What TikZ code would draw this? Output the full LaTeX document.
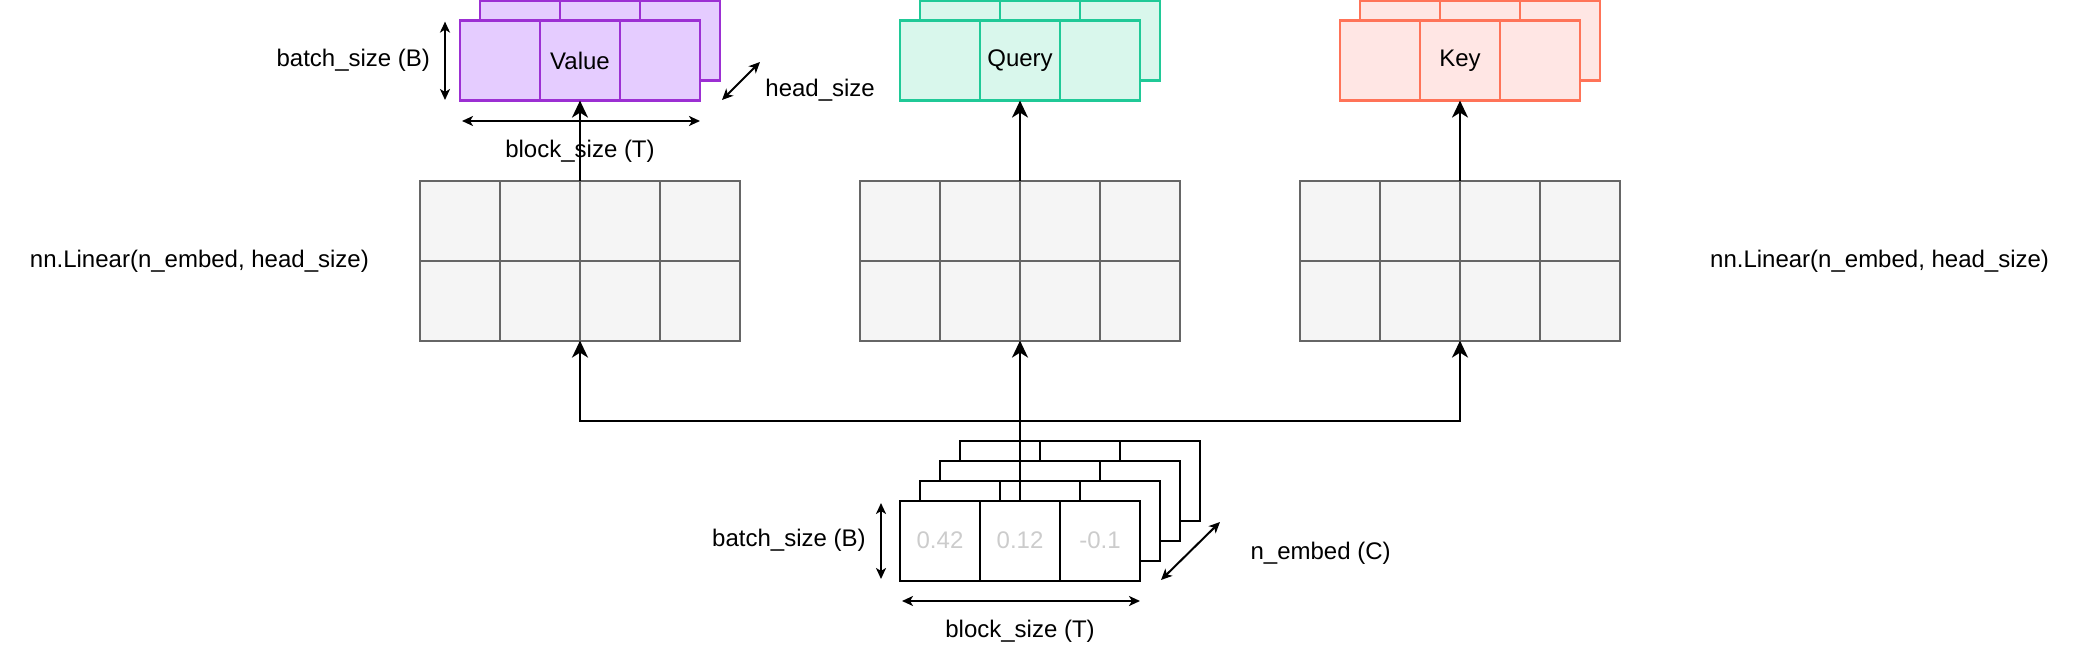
\documentclass[tikz,border=0pt]{standalone}
\usepackage{fontspec}
\setmainfont{Liberation Sans}
\usetikzlibrary{arrows.meta,calc}
\definecolor{vfill}{HTML}{E5CCFF}
\definecolor{vdraw}{HTML}{9C2FD3}
\definecolor{qfill}{HTML}{D9F7EC}
\definecolor{qdraw}{HTML}{20C997}
\definecolor{kfill}{HTML}{FFE6E4}
\definecolor{kdraw}{HTML}{FF7358}
\definecolor{lfill}{HTML}{F5F5F5}
\definecolor{ldraw}{HTML}{666666}
\definecolor{numgray}{HTML}{CCCCCC}
\newcommand{\tripbox}[4]{%
  \node[#3, minimum width=120pt, minimum height=40pt] (#1) at (#2) {#4};
  \draw[#3] ($(#1.north west)!1/3!(#1.north east)$) -- ($(#1.south west)!1/3!(#1.south east)$)
            ($(#1.north west)!2/3!(#1.north east)$) -- ($(#1.south west)!2/3!(#1.south east)$);
}
\newcommand{\linbox}[2]{%
  \node[linstyle, minimum width=160pt, minimum height=80pt] (#1) at (#2) {};
  \foreach \k in {1,2,3}{
    \draw[linstyle] ($(#1.north west)!\k/4!(#1.north east)$) -- ($(#1.south west)!\k/4!(#1.south east)$);
  }
  \draw[linstyle] (#1.west) -- (#1.east);
}
\tikzset{
  base/.style={inner sep=0pt, outer sep=0pt, font=\fontsize{12}{14}\selectfont},
  vstyle/.style={base, draw=vdraw, fill=vfill, line width=1.2pt},
  qstyle/.style={base, draw=qdraw, fill=qfill, line width=1.2pt},
  kstyle/.style={base, draw=kdraw, fill=kfill, line width=1.2pt},
  istyle/.style={base, draw=black, fill=white, line width=1pt},
  linstyle/.style={base, draw=ldraw, fill=lfill, line width=1pt},
  lbl/.style={base, text=black},
  num/.style={base, text=numgray},
  conn/.style={draw=black, line width=1pt, -{Stealth[length=8.5pt,width=8pt,inset=2.5pt]}},
  dim/.style={draw=black, line width=1pt, {Stealth[length=5.5pt,width=5pt,inset=1.5pt]}-{Stealth[length=5.5pt,width=5pt,inset=1.5pt]}},
}
\begin{document}
\begin{tikzpicture}[x=1pt,y=-1pt]
\useasboundingbox (0,0) rectangle (1041,331);

% output stacks
\tripbox{V1}{300,20.3}{vstyle}{}
\tripbox{V0}{290,30.3}{vstyle}{Value}
\tripbox{Q1}{520,20.3}{qstyle}{}
\tripbox{Q0}{510,30.3}{qstyle}{Query}
\tripbox{K1}{740,20.3}{kstyle}{}
\tripbox{K0}{730,30.3}{kstyle}{Key}

% linear layers
\linbox{L1}{290,130.3}
\linbox{L2}{510,130.3}
\linbox{L3}{730,130.3}

% input stack
\tripbox{I3}{540,240.3}{istyle}{}
\tripbox{I2}{530,250.3}{istyle}{}
\tripbox{I1}{520,260.3}{istyle}{}
\tripbox{I0}{510,270.3}{istyle}{}
\node[num] (n1) at ($(I0.west)!1/6!(I0.east)$) {0.42};
\node[num] (n2) at ($(I0.west)!3/6!(I0.east)$) {0.12};
\node[num] (n3) at ($(I0.west)!5/6!(I0.east)$) {-0.1};

% connectors
\coordinate (J) at (510,210.3);
\draw[conn] (I0.north) -- (L2.south);
\draw[conn] (J) -| (L1.south);
\draw[conn] (J) -| (L3.south);
\draw[conn] (L1.north) -- (V0.south);
\draw[conn] (L2.north) -- (Q0.south);
\draw[conn] (L3.north) -- (K0.south);

% dimension arrows (top)
\coordinate (tb1) at (222.5,10.8);
\coordinate (tb2) at (222.5,50);
\draw[dim] (tb1) -- (tb2);
\coordinate (th1) at (361,50);
\coordinate (th2) at (380,31);
\draw[dim] (th1) -- (th2);
\coordinate (tl1) at (231,60.5);
\coordinate (tl2) at (350,60.5);
\draw[dim] (tl1) -- (tl2);

% dimension arrows (bottom)
\coordinate (bb1) at (440.5,251.5);
\coordinate (bb2) at (440.5,289.5);
\draw[dim] (bb1) -- (bb2);
\coordinate (be1) at (580.5,290);
\coordinate (be2) at (610,261);
\draw[dim] (be1) -- (be2);
\coordinate (bl1) at (451,300.5);
\coordinate (bl2) at (570,300.5);
\draw[dim] (bl1) -- (bl2);

% labels
\node[lbl, anchor=east] (tbt) at (215,30.3) {batch\_size (B)};
\node[lbl, anchor=west] (tht) at (382.7,45) {head\_size};
\node[lbl] (tlt) at (290,75.8) {block\_size (T)};
\node[lbl] (linl) at (99.7,130.5) {nn.Linear(n\_embed, head\_size)};
\node[lbl] (linr) at (939.8,130.8) {nn.Linear(n\_embed, head\_size)};
\node[lbl, anchor=east] (bbt) at (432.8,270.3) {batch\_size (B)};
\node[lbl, anchor=west] (bet) at (625.3,276.7) {n\_embed (C)};
\node[lbl] (blt) at (510,315.5) {block\_size (T)};
\end{tikzpicture}
\end{document}
